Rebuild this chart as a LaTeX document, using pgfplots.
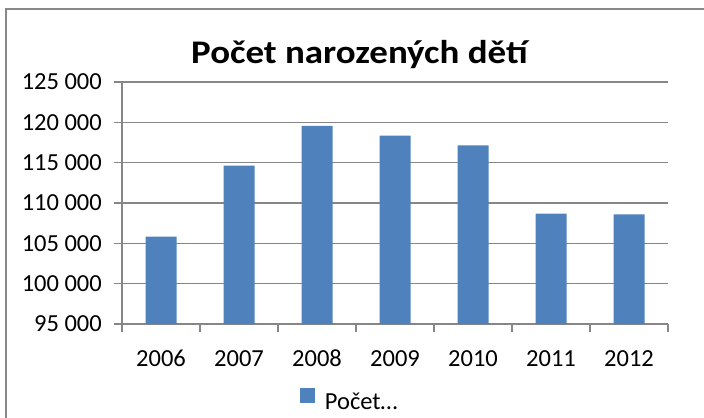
\documentclass[border=0pt]{standalone}
\usepackage{pgfplots}
\pgfplotsset{compat=1.18}
\usepackage{fontspec}
\setmainfont{Carlito}
\newfontfamily\titlefont[FakeStretch=1.12]{Carlito}
\definecolor{barblue}{RGB}{79,129,189}
\definecolor{gridgray}{RGB}{134,134,134}
\definecolor{framegray}{RGB}{137,137,137}
\begin{document}
\begin{tikzpicture}[x=1bp,y=1bp]
\draw[framegray, line width=1.2bp] (6,-2) -- (6,408) -- (710,408);
\node[anchor=base west, inner sep=0pt, font=\fontsize{33bp}{36bp}\titlefont\bfseries] at (191,354) {Počet narozených dětí};
\begin{axis}[
  at={(122bp,93bp)}, anchor=south west,
  scale only axis, width=546bp, height=242bp,
  xmin=-0.5, xmax=6.5, ymin=95000, ymax=125000,
  scaled y ticks=false,
  axis x line*=bottom, axis y line*=left,
  axis line style={gridgray, line width=1.2bp},
  ytick={95000,100000,...,125000},
  yticklabels={95 000,100 000,105 000,110 000,115 000,120 000,125 000},
  ymajorgrids, grid style={gridgray, line width=1.2bp},
  tick align=outside, major tick length=8bp,
  tick style={gridgray, line width=1.2bp},
  xtick={-0.5,0.5,...,6.5},
  xticklabels={,,,,,,,,},
  extra x ticks={0,1,2,3,4,5,6},
  extra x tick labels={2006,2007,2008,2009,2010,2011,2012},
  extra x tick style={major tick length=0pt, grid=none,
     xticklabel style={anchor=base, inner sep=0pt, yshift=-42.7bp}},
  yticklabel style={anchor=east, inner sep=0pt, xshift=-12bp, font=\fontsize{24.5bp}{28bp}\selectfont},
  xticklabel style={font=\fontsize{24.5bp}{28bp}\selectfont},
  ybar, bar width=31bp,
  legend style={at={(0.4176,-0.318)}, anchor=center, draw=none, fill=none,
     inner sep=0pt, font=\fontsize{24.5bp}{28bp}\selectfont,
     /tikz/every odd column/.append style={column sep=8bp}},
  legend image code/.code={\fill[barblue] (0bp,-1bp) rectangle (14.5bp,14bp);},
]
\addplot[fill=barblue, draw=none] coordinates {
  (0,105831) (1,114632) (2,119570) (3,118348) (4,117153) (5,108673) (6,108576)
};
\addlegendentry{Počet…}
\end{axis}
\pgfresetboundingbox
\useasboundingbox (0,0) rectangle (704,417);
\end{tikzpicture}
\end{document}
